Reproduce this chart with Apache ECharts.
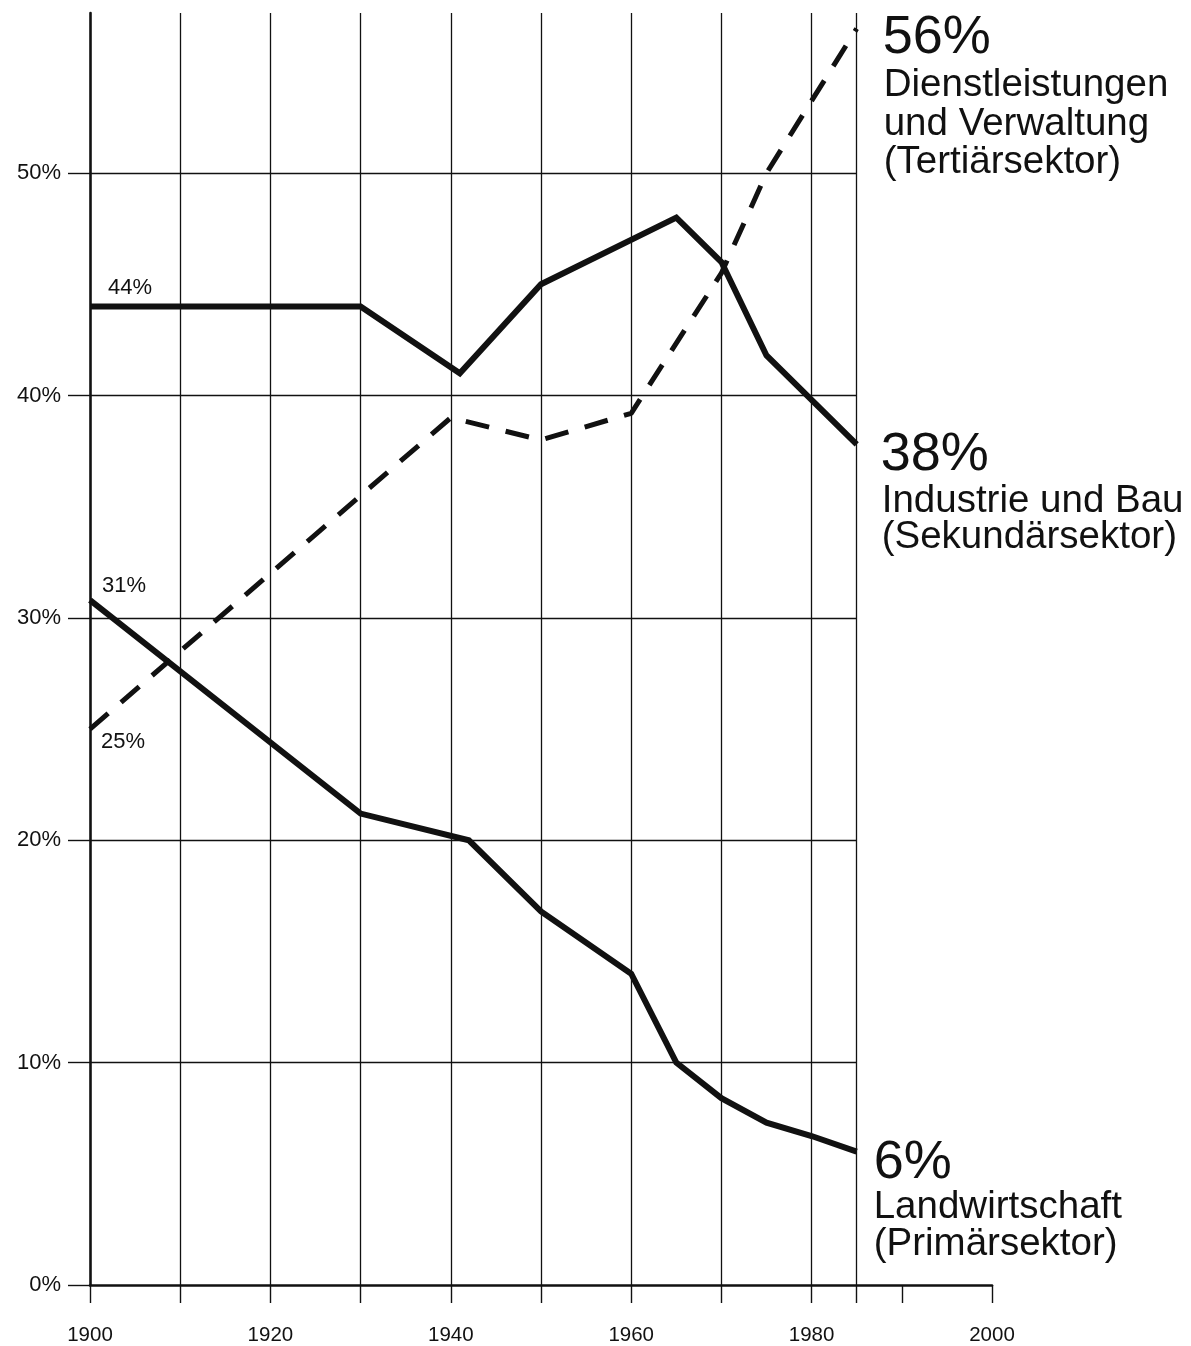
<!DOCTYPE html>
<html>
<head>
<meta charset="utf-8">
<script src="https://cdn.jsdelivr.net/npm/echarts@6/dist/echarts.min.js"></script>
<style>
html,body{margin:0;padding:0;background:#fff;}
#c{width:1191px;height:1346px;}
</style>
</head>
<body>
<div id="c"></div>
<script>
// ---- data ----
const tertYears  = [1900, 1940, 1950, 1960, 1970, 1975, 1985];
const tertValues = [25, 39, 38, 39.2, 45.5, 50, 56.5];

const sekYears   = [1900, 1930, 1941, 1950, 1965, 1970, 1975, 1985];
const sekValues  = [44, 44, 41, 45, 48, 46, 41.8, 37.8];

const primYears  = [1900, 1930, 1942, 1950, 1960, 1965, 1970, 1975, 1980, 1985];
const primValues = [30.8, 21.2, 20, 16.8, 14, 10, 8.4, 7.3, 6.7, 6];

const yTickValues   = [0, 10, 20, 30, 40, 50];
const xTickYears    = [1900, 1910, 1920, 1930, 1940, 1950, 1960, 1970, 1980, 1985, 1990, 2000];
const xLabelYears   = [1900, 1920, 1940, 1960, 1980, 2000];
const gridLineYears = [1910, 1920, 1930, 1940, 1950, 1960, 1970, 1980, 1985];
const gridLineVals  = [10, 20, 30, 40, 50];

const startLabels = ['44%', '31%', '25%'];          // sek, prim, tert at 1900
const endBig      = ['56%', '38%', '6%'];           // tert, sek, prim at 1985
const endTexts    = [
  ['Dienstleistungen', 'und Verwaltung', '(Tertiärsektor)'],
  ['Industrie und Bau', '(Sekundärsektor)'],
  ['Landwirtschaft', '(Primärsektor)']
];

// ---- styling / layout ----
const INK = '#111';
const FONT = '"Liberation Sans", Arial, Helvetica, sans-serif';
const X_MIN = 1900, X_MAX = 2000, X_END = 1985;
const Y_MIN = 0, Y_MAX = 57.2;

const pairs = (xs, ys) => xs.map((x, i) => [x, ys[i]]);

const vLines = gridLineYears.map(yr => [{coord: [yr, Y_MIN]}, {coord: [yr, Y_MAX]}]);
const hLines = gridLineVals.map(v => [{coord: [X_MIN, v]}, {coord: [X_END, v]}]);

const chart = echarts.init(document.getElementById('c'), null, {renderer: 'canvas'});

chart.setOption({
  backgroundColor: '#fff',
  animation: false,
  grid: {left: 90, right: 199, top: 13, bottom: 61},
  xAxis: {
    type: 'value', min: X_MIN, max: X_MAX, interval: 10,
    axisLine: {show: true, lineStyle: {color: INK, width: 2.6}},
    axisTick: {show: true, length: 18, customValues: xTickYears, lineStyle: {color: INK, width: 1.4}},
    axisLabel: {
      customValues: xLabelYears,
      formatter: v => (v % 20 === 0 ? String(v) : ''),
      color: INK, fontSize: 20.5, fontFamily: FONT, margin: 40
    },
    splitLine: {show: false}
  },
  yAxis: {
    type: 'value', min: Y_MIN, max: Y_MAX, interval: 10,
    axisLine: {show: true, onZero: false, lineStyle: {color: INK, width: 2.6}},
    axisTick: {show: true, length: 22, customValues: yTickValues, lineStyle: {color: INK, width: 1.4}},
    axisLabel: {
      customValues: yTickValues,
      formatter: v => (Math.abs(v % 10) < 1e-9 ? v + '%' : ''),
      color: INK, fontSize: 22, fontFamily: FONT, margin: 29
    },
    splitLine: {show: false}
  },
  series: [
    {
      name: 'Primärsektor', type: 'line', data: pairs(primYears, primValues),
      symbol: 'none', silent: true,
      lineStyle: {color: INK, width: 6, join: 'miter'},
      markLine: {
        silent: true, symbol: ['none', 'none'], label: {show: false},
        lineStyle: {color: INK, width: 1.3, type: 'solid'},
        emphasis: {disabled: true},
        data: vLines.concat(hLines)
      }
    },
    {
      name: 'Sekundärsektor', type: 'line', data: pairs(sekYears, sekValues),
      symbol: 'none', silent: true,
      lineStyle: {color: INK, width: 6, join: 'miter'}
    },
    {
      name: 'Tertiärsektor', type: 'line', data: pairs(tertYears, tertValues),
      symbol: 'none', silent: true,
      lineStyle: {color: INK, width: 5, type: [24, 17], cap: 'butt'}
    }
  ]
});

// ---- annotations anchored to the data points ----
const px = p => chart.convertToPixel({gridIndex: 0}, p);
const txt = (x, y, text, size) => ({
  type: 'text', x: x, y: y, silent: true,
  style: {text: text, fill: INK, font: size + 'px ' + FONT,
          align: 'left', verticalAlign: 'middle', textAlign: 'left', textVerticalAlign: 'middle'}
});

const g = [];
// start labels
const s1 = px([sekYears[0], sekValues[0]]);
g.push(txt(s1[0] + 18, s1[1] - 19, startLabels[0], 22));
const s2 = px([primYears[0], primValues[0]]);
g.push(txt(s2[0] + 12, s2[1] - 14, startLabels[1], 22));
const s3 = px([tertYears[0], tertValues[0]]);
g.push(txt(s3[0] + 11, s3[1] + 13, startLabels[2], 22));

// end labels
const ends = [
  {p: px([tertYears[tertYears.length - 1], tertValues[tertValues.length - 1]]), dx: 26, dxs: 27, dyBig: 10, dySub: 57, gap: 38.5},
  {p: px([sekYears[sekYears.length - 1], sekValues[sekValues.length - 1]]), dx: 24, dxs: 25, dyBig: 11, dySub: 57, gap: 35.5},
  {p: px([primYears[primYears.length - 1], primValues[primValues.length - 1]]), dx: 17, dxs: 17, dyBig: 12, dySub: 56, gap: 37}
];
ends.forEach((e, i) => {
  g.push(txt(e.p[0] + e.dx, e.p[1] + e.dyBig, endBig[i], 54));
  endTexts[i].forEach((line, j) => {
    g.push(txt(e.p[0] + e.dxs, e.p[1] + e.dySub + j * e.gap, line, 38.5));
  });
});

chart.setOption({graphic: g});
</script>
</body>
</html>
